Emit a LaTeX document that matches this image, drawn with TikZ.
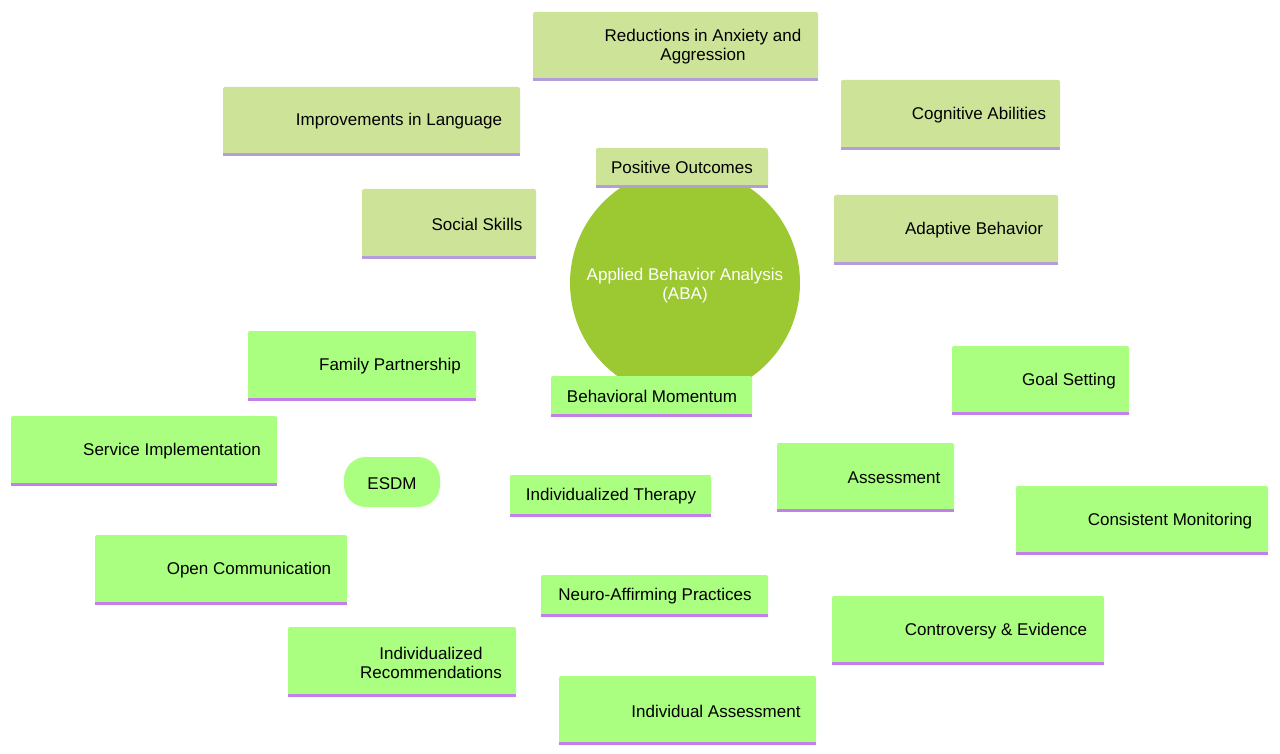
\documentclass[tikz,border=0pt]{standalone}
\usepackage{fontspec}
\setmainfont{Liberation Sans}
\usetikzlibrary{backgrounds}
\definecolor{upc}{HTML}{CDE498}
\definecolor{loc}{HTML}{ABFF80}
\definecolor{rootc}{HTML}{9CC832}
\definecolor{upb}{HTML}{B39DDB}
\definecolor{lob}{HTML}{C480EA}
\tikzset{x=1pt,y=-1pt,
 lbl/.style={font=\fontsize{17}{19}\selectfont,align=center,inner sep=0pt},
 ue/.style={upc,line width=7pt},
 le/.style={loc,line width=7pt}}
\newcommand{\mmbox}[9]{%
 \node[fill=#9c,rounded corners=2pt,minimum width={(#4-#2)*1pt},minimum height={(#5-#3)*1pt},inner sep=0pt] (#1) at ({(#2+#4)/2},{(#3+#5)/2}) {};
 \draw[#9b,line width=3pt] (#1.south west) -- (#1.south east);
 \node[lbl] (#1t) at (#6,#7) {#8};}
\begin{document}
\begin{tikzpicture}
\useasboundingbox[fill=white] (0,0) rectangle (1280,754);
\node[circle,fill=rootc,minimum size=230pt,inner sep=0pt] (root) at (685,283) {};
\node[lbl,text=white] (roott) at (685,286) {Applied Behavior Analysis\\(ABA)};
\mmbox{po}{596}{148}{768}{186}{682}{167}{Positive Outcomes}{up}
\mmbox{ra}{533}{12}{818}{79}{703}{47}{Reductions in Anxiety and\\Aggression}{up}
\mmbox{il}{223}{87}{520}{154}{399}{121}{Improvements in Language}{up}
\mmbox{ca}{841}{80}{1060}{148}{979}{115}{Cognitive Abilities}{up}
\mmbox{ss}{362}{189}{536}{257}{477}{224}{Social Skills}{up}
\mmbox{ab}{834}{195}{1058}{263}{974}{230}{Adaptive Behavior}{up}
\mmbox{bm}{551}{376}{752}{415}{652}{396}{Behavioral Momentum}{lo}
\mmbox{fp}{248}{331}{476}{399}{390}{366}{Family Partnership}{lo}
\mmbox{si}{11}{416}{277}{484}{172}{451}{Service Implementation}{lo}
\node[fill=loc,rounded corners=22pt,minimum width=96pt,minimum height=50pt] (es) at (392,482) {};
\node[lbl] (est) at (392,484) {ESDM};
\mmbox{it}{510}{475}{711}{515}{611}{496}{Individualized Therapy}{lo}
\mmbox{gs}{952}{346}{1129}{413}{1069}{381}{Goal Setting}{lo}
\mmbox{as}{777}{443}{954}{510}{894}{478}{Assessment}{lo}
\mmbox{cm}{1016}{486}{1268}{553}{1170}{521}{Consistent Monitoring}{lo}
\mmbox{oc}{95}{535}{347}{603}{249}{570}{Open Communication}{lo}
\mmbox{na}{541}{575}{768}{615}{655}{596}{Neuro-Affirming Practices}{lo}
\mmbox{ce}{832}{596}{1104}{663}{996}{631}{Controversy \& Evidence}{lo}
\mmbox{ir}{288}{627}{516}{695}{431}{663}{Individualized\\Recommendations}{lo}
\mmbox{ia}{559}{676}{816}{743}{716}{711}{Individual Assessment}{lo}
\begin{scope}[on background layer]
\draw[ue,line width=9pt] (root.center) -- (po.center);
\foreach \n in {ra,il,ca,ss,ab} \draw[ue] (po.center) -- (\n.center);
\draw[le,line width=9pt] (root.center) -- (it.center);
\draw[le,line width=9pt] (it.center) -- (bm.center);
\foreach \n in {es,as,na} \draw[le] (it.center) -- (\n.center);
\foreach \n in {fp,si,oc} \draw[le,line width=5pt] (es.center) -- (\n.center);
\foreach \n in {gs,cm} \draw[le,line width=5pt] (as.center) -- (\n.center);
\foreach \n in {ce,ir,ia} \draw[le,line width=5pt] (na.center) -- (\n.center);
\end{scope}
\end{tikzpicture}
\end{document}
